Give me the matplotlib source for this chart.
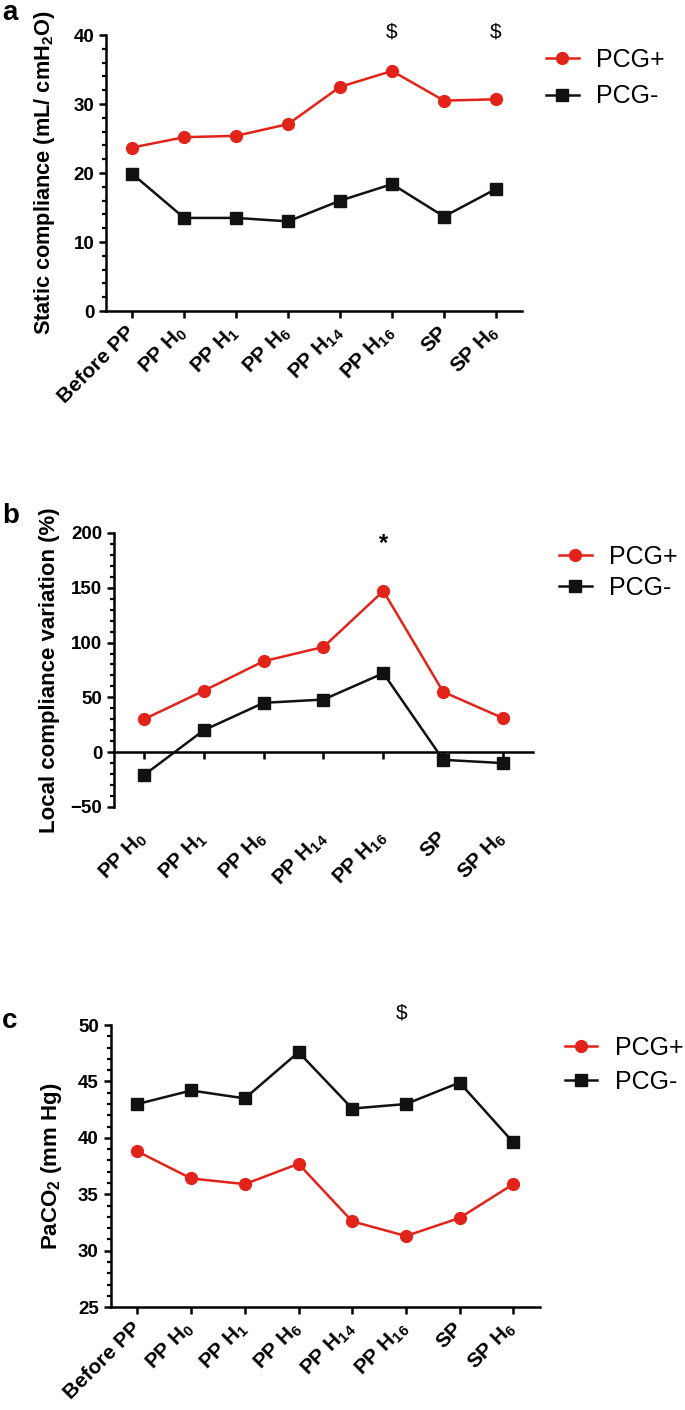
import matplotlib
matplotlib.use("Agg")
import matplotlib.pyplot as plt
from matplotlib.ticker import MultipleLocator

plt.rcParams["font.family"] = ["Liberation Sans", "DejaVu Sans"]
plt.rcParams["mathtext.default"] = "regular"

RED = "#e2231a"
BLACK = "#111111"

# panel a: static compliance
labels_a = ["Before PP", "PP H$_0$", "PP H$_1$", "PP H$_6$",
            "PP H$_{14}$", "PP H$_{16}$", "SP", "SP H$_6$"]
static_pos = [23.7, 25.2, 25.4, 27.1, 32.5, 34.8, 30.5, 30.7]
static_neg = [19.9, 13.5, 13.5, 13.0, 16.0, 18.4, 13.7, 17.7]
marks_a = [5, 7]

# panel b: local compliance variation
labels_b = labels_a[1:]
local_pos = [30, 56, 83, 96, 147, 55, 31]
local_neg = [-21, 20, 45, 48, 72, -7, -10]
marks_b = [4]

# panel c: PaCO2
labels_c = labels_a
paco2_pos = [38.8, 36.4, 35.9, 37.7, 32.6, 31.3, 32.9, 35.9]
paco2_neg = [43.0, 44.2, 43.5, 47.6, 42.6, 43.0, 44.9, 39.6]
marks_c = [4.92]

fig = plt.figure(figsize=(6.85, 14.10), dpi=100)


def style_axis(ax, major, minor):
    for side in ("top", "right"):
        ax.spines[side].set_visible(False)
    for side in ("left", "bottom"):
        ax.spines[side].set_linewidth(1.8)
    ax.yaxis.set_major_locator(MultipleLocator(major))
    ax.yaxis.set_minor_locator(MultipleLocator(minor))
    ax.tick_params(axis="both", which="major", length=5, width=1.8,
                   labelsize=13.5)
    ax.tick_params(axis="y", which="minor", length=3, width=1.6)
    for t in ax.get_yticklabels():
        t.set_fontweight("bold")


def draw_series(ax, pos, neg):
    x = range(len(pos))
    ax.plot(x, pos, color=RED, lw=1.8, marker="o", ms=8.5, label="PCG+",
            clip_on=False, zorder=3)
    ax.plot(x, neg, color=BLACK, lw=1.8, marker="s", ms=8.5, label="PCG-",
            clip_on=False, zorder=3)


def set_xlabels(axis, labels):
    axis.set_ticks(range(len(labels)))
    axis.set_ticklabels(labels, rotation=45, ha="right", va="center",
                        rotation_mode="anchor", fontsize=15,
                        fontweight="bold")


def add_legend(ax, x, y, spacing):
    ax.legend(loc="upper left", bbox_to_anchor=(x, y),
              bbox_transform=fig.transFigure, frameon=False, fontsize=18,
              handlelength=1.3, handletextpad=0.7, borderpad=0,
              labelspacing=spacing)


# ---- panel a
ax1 = fig.add_axes([0.155, 0.7794, 0.607, 0.1957])
draw_series(ax1, static_pos, static_neg)
ax1.set_xlim(-0.5, len(labels_a) - 0.5)
ax1.set_ylim(0, 40)
style_axis(ax1, 10, 2)
set_xlabels(ax1.xaxis, labels_a)
ax1.tick_params(axis="x", pad=8)
ax1.set_ylabel("Static compliance (mL/ cmH$_2$O)", fontsize=15.7,
               fontweight="bold")
ax1.yaxis.set_label_coords(-0.118, 0.5)
for m in marks_a:
    ax1.text(m, 40.4, r"\$", ha="center", va="center", fontsize=15,
             clip_on=False)
add_legend(ax1, 0.779, 0.975, 0.5)
fig.text(0.003, 0.986, "a", fontsize=20, fontweight="bold")

# ---- panel b
ax2 = fig.add_axes([0.1664, 0.4277, 0.6117, 0.1943])
draw_series(ax2, local_pos, local_neg)
ax2.set_xlim(-0.5, len(labels_b) - 0.5)
ax2.set_ylim(-50, 200)
style_axis(ax2, 50, 10)
ax2.spines["bottom"].set_position(("data", 0))
ax2.set_xticks(range(len(labels_b)))
ax2.tick_params(axis="x", labelbottom=False)
sec = ax2.secondary_xaxis(0.0)
sec.spines["bottom"].set_visible(False)
sec.tick_params(axis="x", length=0, pad=20)
set_xlabels(sec.xaxis, labels_b)
ax2.set_ylabel("Local compliance variation (%)", fontsize=16,
               fontweight="bold")
ax2.yaxis.set_label_coords(-0.128, 0.5)
for m in marks_b:
    ax2.text(m, 190, "*", ha="center", va="center", fontsize=17,
             fontweight="bold", clip_on=False)
add_legend(ax2, 0.798, 0.6224, 0.27)
fig.text(0.003, 0.629, "b", fontsize=20, fontweight="bold")

# ---- panel c
ax3 = fig.add_axes([0.1615, 0.073, 0.627, 0.2])
draw_series(ax3, paco2_pos, paco2_neg)
ax3.set_xlim(-0.5, len(labels_c) - 0.5)
ax3.set_ylim(25, 50)
style_axis(ax3, 5, 1)
set_xlabels(ax3.xaxis, labels_c)
ax3.tick_params(axis="x", pad=8)
ax3.set_ylabel("PaCO$_2$ (mm Hg)", fontsize=16, fontweight="bold")
ax3.yaxis.set_label_coords(-0.108, 0.5)
for m in marks_c:
    ax3.text(m, 51.1, r"\$", ha="center", va="center", fontsize=15,
             clip_on=False)
add_legend(ax3, 0.806, 0.2744, 0.4)
fig.text(0.003, 0.271, "c", fontsize=20, fontweight="bold")

fig.savefig("out.png", dpi=100)
